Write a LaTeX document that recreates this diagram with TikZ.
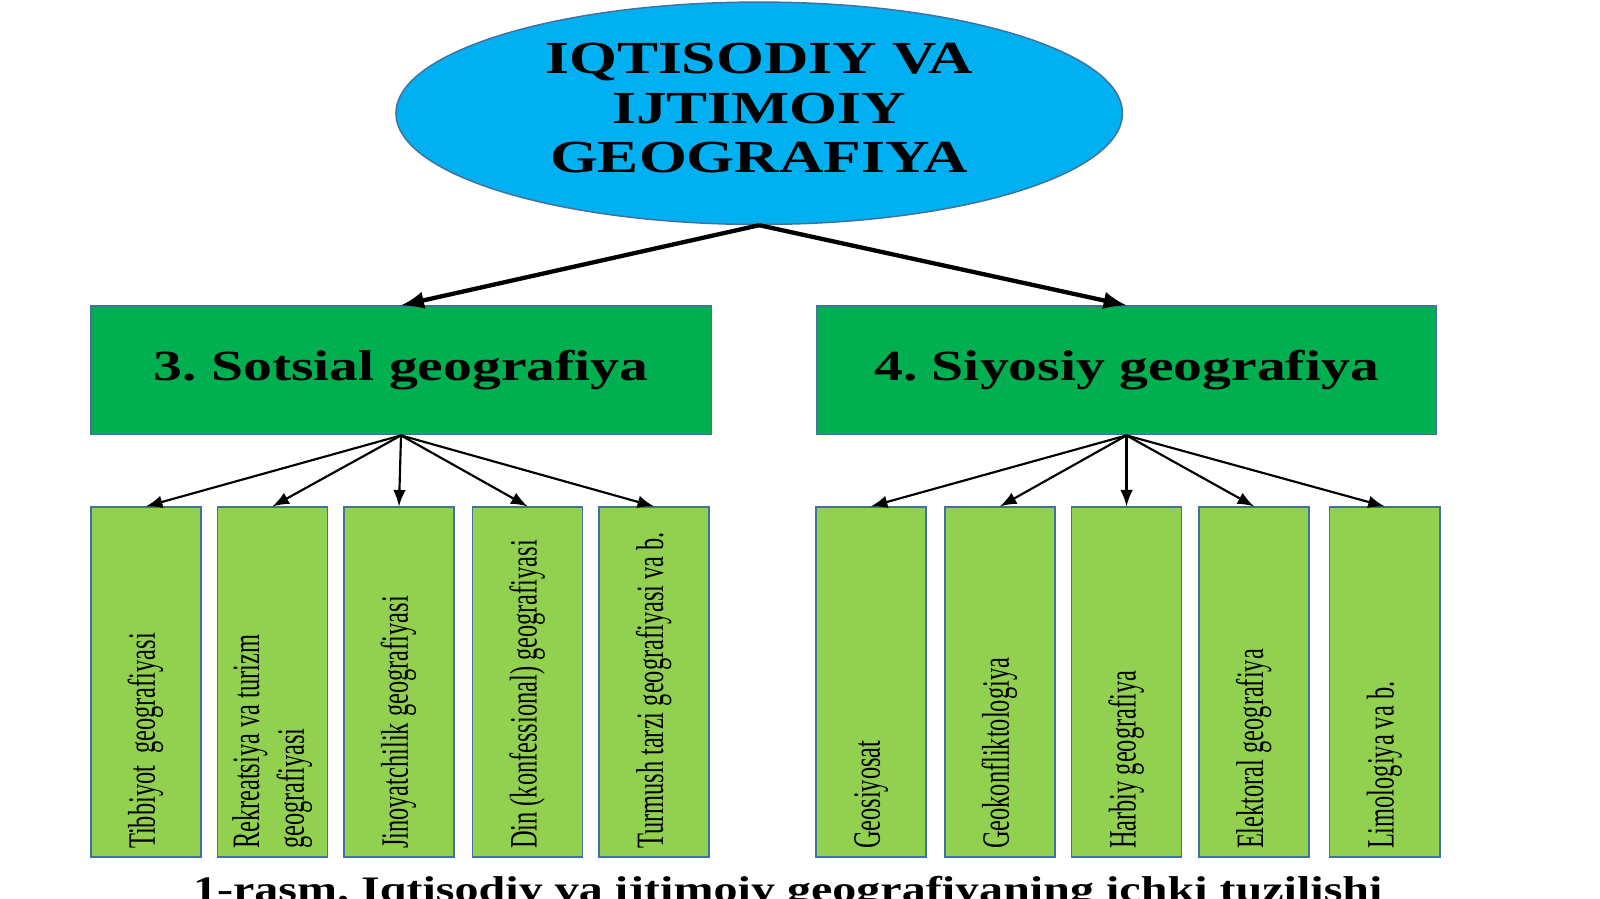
\documentclass[tikz,border=0pt]{standalone}
\usepackage{fontspec}
\setmainfont{Liberation Serif}
\usepackage{graphicx}
\usetikzlibrary{shapes.geometric}
\definecolor{skyblue}{HTML}{00B0F0}
\definecolor{darkgreen}{HTML}{00B050}
\definecolor{lightgreen}{HTML}{92D050}
\definecolor{edgeblue}{HTML}{41719C}
\newcommand{\widetext}[1]{\scalebox{1.34}[1]{#1}}
\newcommand{\slimtext}[1]{\scalebox{0.63}[1]{#1}}
\frenchspacing
\tikzset{
  topnode/.style={ellipse, draw=edgeblue, fill=skyblue, minimum width=7.12cm, minimum height=2.18cm, inner sep=0pt},
  mainbox/.style={rectangle, draw=edgeblue, fill=darkgreen, minimum width=6.08cm, minimum height=1.26cm, inner sep=0pt},
  subbox/.style={rectangle, draw=edgeblue, fill=lightgreen, minimum width=1.08cm, minimum height=3.43cm, inner sep=0pt},
  vtext/.style={rotate=90, anchor=west, inner sep=0pt, font=\fontsize{10.8}{12.5}\selectfont},
  bigarrow/.style={-latex, line width=1.2pt},
  smallarrow/.style={-latex, line width=0.6pt}
}
\begin{document}
\begin{tikzpicture}
\useasboundingbox (0,0) rectangle (15.68,-8.81);
\node[topnode] (geo) at (7.44,-1.11) {\widetext{\fontsize{12.8}{13.7}\selectfont\bfseries\begin{tabular}{@{}c@{}}IQTISODIY VA\\IJTIMOIY\\GEOGRAFIYA\end{tabular}}};
\node[mainbox] (sots) at (3.93,-3.63) {\widetext{\fontsize{12}{14}\selectfont\bfseries 3. Sotsial geografiya}};
\node[mainbox] (siyo) at (11.04,-3.63) {\widetext{\fontsize{12}{14}\selectfont\bfseries 4. Siyosiy geografiya}};
\draw[bigarrow] (geo.south) -- (sots.north);
\draw[bigarrow] (geo.south) -- (siyo.north);
% sotsial branch
\foreach \i/\x/\txt in {1/1.43/{Tibbiyot\ \ geografiyasi}, 2/2.67/{Rekreatsiya va turizm\\geografiyasi}, 3/3.91/{Jinoyatchilik geografiyasi}, 4/5.17/{Din (konfessional) geografiyasi}, 5/6.41/{Turmush tarzi geografiyasi va b.}} {
  \node[subbox] (s\i) at (\x,-6.685) {};
  \node[vtext] (ts\i) at ([yshift=0.08cm]s\i.south) {\slimtext{\begin{tabular}{@{}l@{}}\txt\end{tabular}}};
  \draw[smallarrow] (sots.south) -- (s\i.north);
}
% siyosiy branch
\foreach \i/\x/\txt in {1/8.535/{Geosiyosat}, 2/9.80/{Geokonfliktologiya}, 3/11.04/{Harbiy geografiya}, 4/12.29/{Elektoral geografiya}, 5/13.57/{Limologiya va b.}} {
  \node[subbox] (p\i) at (\x,-6.685) {};
  \node[vtext] (tp\i) at ([yshift=0.08cm]p\i.south) {\slimtext{\begin{tabular}{@{}l@{}}\txt\end{tabular}}};
  \draw[smallarrow] (siyo.south) -- (p\i.north);
}
\node[anchor=base, inner sep=0pt] (caption) at (7.72,-8.83) {\widetext{\fontsize{10}{12}\selectfont\bfseries 1-rasm. Iqtisodiy va ijtimoiy geografiyaning ichki tuzilishi}};
\end{tikzpicture}
\end{document}
